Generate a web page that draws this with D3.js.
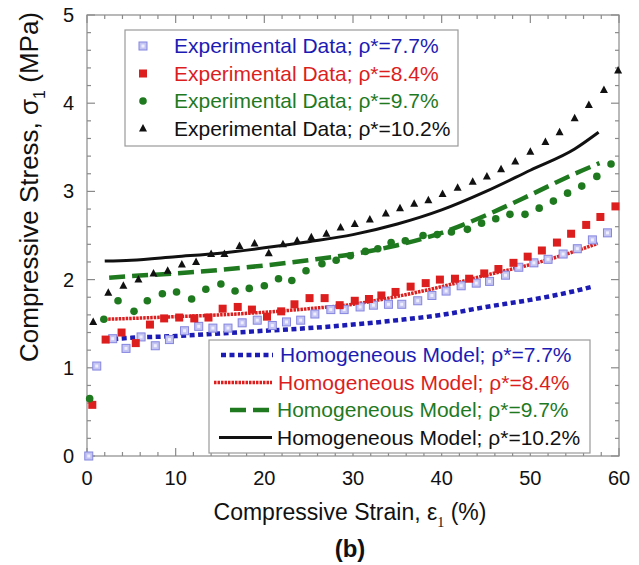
<!DOCTYPE html>
<html>
<head>
<meta charset="utf-8">
<script src="https://cdn.jsdelivr.net/npm/d3@7"></script>
<style>
  body { margin: 0; background: #fff; }
  svg { font-family: "Liberation Sans", Arial, sans-serif; }
</style>
</head>
<body>
<svg id="chart" width="639" height="565"></svg>
<script>
// ----- DATA -----

var xTicks = [0, 10, 20, 30, 40, 50, 60];
var yTicks = [0, 1, 2, 3, 4, 5];

// experimental points [strain %, stress MPa]
var blueExp = [[0.2,0.0],[1.1,1.02],[2.9,1.33],[4.4,1.22],[6.1,1.35],[7.7,1.25],[9.3,1.32],[11.0,1.42],[12.6,1.47],[14.2,1.45],[15.9,1.45],[17.5,1.51],[19.2,1.54],[20.9,1.48],[22.5,1.52],[24.1,1.54],[25.7,1.61],[27.5,1.66],[29.0,1.66],[30.8,1.69],[32.3,1.71],[34.0,1.72],[35.5,1.72],[37.3,1.76],[38.9,1.82],[40.5,1.87],[42.2,1.93],[43.9,1.96],[45.4,1.98],[47.2,2.05],[48.7,2.14],[50.4,2.19],[52.0,2.23],[53.7,2.29],[55.3,2.35],[57.0,2.45],[58.7,2.53]];
var redExp = [[0.6,0.58],[2.1,1.32],[3.9,1.40],[5.5,1.28],[7.1,1.49],[8.7,1.56],[10.4,1.57],[12.1,1.56],[13.7,1.57],[15.3,1.67],[17.0,1.69],[18.6,1.66],[20.3,1.58],[21.9,1.64],[23.4,1.72],[25.1,1.79],[26.8,1.79],[28.5,1.71],[30.2,1.76],[31.8,1.78],[33.2,1.82],[34.8,1.86],[36.5,1.92],[38.2,1.96],[39.8,2.00],[41.5,2.01],[43.1,2.01],[44.8,2.07],[46.4,2.12],[48.1,2.19],[49.7,2.26],[51.3,2.33],[53.0,2.42],[54.6,2.52],[56.3,2.62],[57.9,2.71],[59.6,2.83]];
var greenExp = [[0.3,0.65],[1.9,1.55],[3.5,1.76],[5.3,1.64],[6.8,1.76],[8.5,1.84],[10.1,1.86],[11.8,1.78],[13.4,1.89],[15.1,1.95],[16.7,1.87],[18.3,1.90],[20.0,1.93],[21.6,2.01],[23.1,1.99],[24.7,2.10],[26.5,2.18],[28.1,2.22],[29.7,2.27],[31.4,2.32],[32.8,2.35],[34.3,2.42],[35.9,2.44],[37.9,2.50],[39.5,2.51],[41.1,2.54],[42.9,2.57],[44.5,2.64],[46.1,2.69],[47.7,2.74],[49.4,2.74],[51.0,2.81],[52.6,2.89],[54.2,2.98],[55.8,3.06],[57.5,3.17],[59.1,3.31]];
var blackExp = [[0.7,1.52],[2.4,1.85],[4.1,1.93],[5.8,2.00],[7.5,2.07],[9.1,2.10],[10.7,2.17],[12.3,2.20],[14.0,2.29],[15.5,2.29],[17.2,2.38],[18.9,2.41],[20.5,2.30],[22.1,2.40],[23.7,2.44],[25.3,2.48],[27.0,2.52],[28.6,2.59],[30.2,2.63],[31.9,2.68],[33.7,2.75],[35.3,2.81],[36.9,2.86],[38.5,2.90],[40.1,2.97],[41.8,3.04],[43.5,3.11],[45.1,3.17],[46.7,3.25],[48.3,3.34],[50.0,3.45],[51.7,3.56],[53.3,3.67],[55.0,3.83],[56.6,3.98],[58.3,4.15],[59.9,4.37]];

// homogeneous model curves
var blueModel = [[2,1.32],[5,1.34],[10,1.36],[15,1.39],[20,1.42],[25,1.45],[30,1.49],[35,1.54],[40,1.60],[45,1.69],[50,1.77],[55,1.87],[57,1.92]];
var redModel = [[2,1.55],[5,1.56],[10,1.58],[15,1.60],[20,1.63],[25,1.67],[30,1.72],[35,1.81],[40,1.92],[45,2.05],[50,2.17],[55,2.32],[57.6,2.41]];
var greenModel = [[2.5,2.02],[5,2.04],[10,2.07],[15,2.11],[20,2.16],[25,2.22],[30,2.29],[35,2.39],[40,2.53],[45,2.73],[50,2.96],[55,3.20],[57.8,3.32]];
var blackModel = [[2,2.21],[5,2.22],[10,2.26],[15,2.30],[20,2.36],[25,2.43],[30,2.51],[35,2.63],[40,2.79],[45,3.00],[50,3.24],[55,3.48],[57.7,3.67]];

var densities = ["7.7", "8.4", "9.7", "10.2"];
var colors = ["#1c1cb4", "#dc1e1e", "#1f7a1f", "#111111"];

// ----- SETUP -----

var svg = d3.select("#chart");
var plotLeft = 87, plotRight = 619, plotTop = 15, plotBottom = 456;

var x = d3.scaleLinear().domain([0, 60]).range([plotLeft, plotRight]);
var y = d3.scaleLinear().domain([0, 5]).range([plotBottom, plotTop]);

// frame
svg.append("rect")
    .attr("x", plotLeft).attr("y", plotTop)
    .attr("width", plotRight - plotLeft).attr("height", plotBottom - plotTop)
    .attr("fill", "none").attr("stroke", "#8a8a8a").attr("stroke-width", 1.2);

// ticks, all four sides, pointing inward
var xMinor = d3.range(0, 61, 2);
var yMinor = d3.range(0, 5.01, 0.2);
var tickColor = "#8a8a8a";

xMinor.forEach(function(v) {
    var len = (v % 10 === 0) ? 8 : 4;
    svg.append("line").attr("x1", x(v)).attr("x2", x(v))
        .attr("y1", plotBottom).attr("y2", plotBottom - len)
        .attr("stroke", tickColor).attr("stroke-width", 1.2);
    svg.append("line").attr("x1", x(v)).attr("x2", x(v))
        .attr("y1", plotTop).attr("y2", plotTop + len)
        .attr("stroke", tickColor).attr("stroke-width", 1.2);
});
yMinor.forEach(function(v) {
    var major = Math.abs(v - Math.round(v)) < 1e-6;
    var len = major ? 8 : 4;
    svg.append("line").attr("x1", plotLeft).attr("x2", plotLeft + len)
        .attr("y1", y(v)).attr("y2", y(v))
        .attr("stroke", tickColor).attr("stroke-width", 1.2);
    svg.append("line").attr("x1", plotRight).attr("x2", plotRight - len)
        .attr("y1", y(v)).attr("y2", y(v))
        .attr("stroke", tickColor).attr("stroke-width", 1.2);
});

// tick labels
svg.selectAll(".xlab").data(xTicks).enter().append("text")
    .attr("x", function(d) { return x(d); })
    .attr("y", 485)
    .attr("text-anchor", "middle")
    .attr("font-size", 20).attr("fill", "#111")
    .text(function(d) { return d; });

svg.selectAll(".ylab").data(yTicks).enter().append("text")
    .attr("x", 74)
    .attr("y", function(d) { return y(d) + 7; })
    .attr("text-anchor", "end")
    .attr("font-size", 20).attr("fill", "#111")
    .text(function(d) { return d; });

// axis titles
var xt = svg.append("text")
    .attr("x", 350).attr("y", 520)
    .attr("text-anchor", "middle")
    .attr("font-size", 23).attr("fill", "#111");
xt.append("tspan").text("Compressive Strain, \u03b5");
xt.append("tspan").attr("font-size", 14).attr("dy", 7).attr("font-family", "Liberation Serif, serif").text("1");
xt.append("tspan").attr("dy", -7).text(" (%)");

var yt = svg.append("text")
    .attr("transform", "translate(38,187) rotate(-90)")
    .attr("text-anchor", "middle")
    .attr("font-size", 26).attr("fill", "#111");
yt.append("tspan").text("Compressive Stress, \u03c3");
yt.append("tspan").attr("font-size", 16).attr("dy", 7).text("1");
yt.append("tspan").attr("dy", -7).text(" (MPa)");

svg.append("text")
    .attr("x", 350).attr("y", 557)
    .attr("text-anchor", "middle")
    .attr("font-size", 24).attr("font-weight", "bold").attr("fill", "#111")
    .text("(b)");

// ----- MODEL LINES -----

var line = d3.line()
    .x(function(d) { return x(d[0]); })
    .y(function(d) { return y(d[1]); })
    .curve(d3.curveMonotoneX);

var lineStyles = [
    { width: 4.5, dash: "5,3.5" },
    { width: 3.5, dash: "2.5,1" },
    { width: 4.5, dash: "16,7" },
    { width: 3, dash: null }
];
var models = [blueModel, redModel, greenModel, blackModel];

models.forEach(function(m, i) {
    svg.append("path")
        .datum(m)
        .attr("d", line)
        .attr("fill", "none")
        .attr("stroke", colors[i])
        .attr("stroke-width", lineStyles[i].width)
        .attr("stroke-dasharray", lineStyles[i].dash);
});

// ----- MARKERS -----

function drawMarker(g, kind, cx, cy) {
    if (kind == 0) {
        g.append("rect").attr("x", cx - 4).attr("y", cy - 4).attr("width", 8).attr("height", 8)
            .attr("fill", "#c4c4f2").attr("stroke", "#8585e0").attr("stroke-width", 1);
        g.append("rect").attr("x", cx - 1.5).attr("y", cy - 1.5).attr("width", 3).attr("height", 3)
            .attr("fill", "#eeeeff");
    } else if (kind == 1) {
        g.append("rect").attr("x", cx - 4).attr("y", cy - 4).attr("width", 8).attr("height", 8)
            .attr("fill", colors[1]);
    } else if (kind == 2) {
        g.append("circle").attr("cx", cx).attr("cy", cy).attr("r", 3.8)
            .attr("fill", colors[2]);
    } else {
        g.append("path")
            .attr("d", "M" + cx + "," + (cy - 4.5) + " L" + (cx + 4) + "," + (cy + 3) + " L" + (cx - 4) + "," + (cy + 3) + " Z")
            .attr("fill", colors[3]);
    }
}

var exps = [blueExp, redExp, greenExp, blackExp];
exps.forEach(function(pts, i) {
    var g = svg.append("g");
    pts.forEach(function(p) {
        drawMarker(g, i, x(p[0]), y(p[1]));
    });
});

// ----- LEGENDS -----

var leg1 = svg.append("g");
leg1.append("rect")
    .attr("x", 125).attr("y", 30).attr("width", 333).attr("height", 116)
    .attr("fill", "#fff").attr("stroke", "#9a9a9a").attr("stroke-width", 1.2);
densities.forEach(function(d, i) {
    var cy = 46 + i * 27.5;
    drawMarker(leg1, i, 143, cy);
    leg1.append("text")
        .attr("x", 174).attr("y", cy + 7)
        .attr("font-size", 21).attr("fill", colors[i])
        .text("Experimental Data; \u03c1*=" + d + "%");
});

var leg2 = svg.append("g");
leg2.append("rect")
    .attr("x", 209).attr("y", 340).attr("width", 381).attr("height", 113)
    .attr("fill", "#fff").attr("stroke", "#9a9a9a").attr("stroke-width", 1.2);
var sampleX = [[221, 273], [214, 272], [230, 270], [219, 272]];
var textX = [280, 278, 277, 277];
densities.forEach(function(d, i) {
    var cy = 355 + i * 27.5;
    leg2.append("line")
        .attr("x1", sampleX[i][0]).attr("x2", sampleX[i][1])
        .attr("y1", cy).attr("y2", cy)
        .attr("stroke", colors[i])
        .attr("stroke-width", lineStyles[i].width)
        .attr("stroke-dasharray", lineStyles[i].dash);
    leg2.append("text")
        .attr("x", textX[i]).attr("y", cy + 7)
        .attr("font-size", 21).attr("fill", colors[i])
        .text("Homogeneous Model; \u03c1*=" + d + "%");
});
</script>
</body>
</html>
